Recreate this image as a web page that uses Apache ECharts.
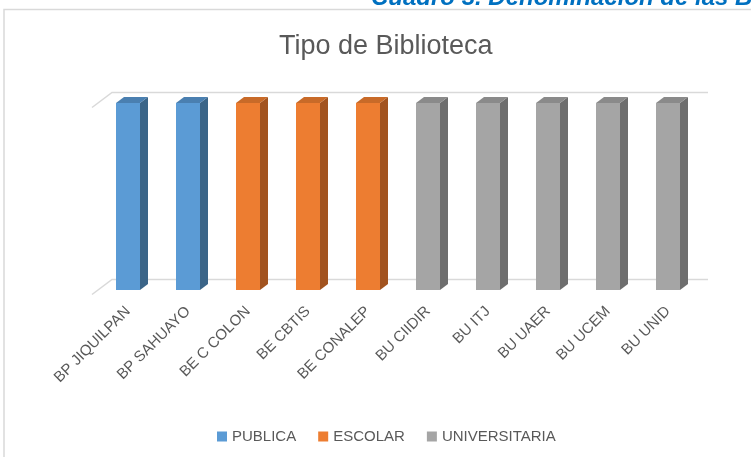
<!DOCTYPE html>
<html>
<head>
<meta charset="utf-8">
<script src="https://cdn.jsdelivr.net/npm/echarts@6/dist/echarts.min.js"></script>
<style>
html,body{margin:0;padding:0;background:#fff;}
#c{width:751px;height:457px;}
</style>
</head>
<body>
<div id="c"></div>
<script>
var categories = ['BP JIQUILPAN','BP SAHUAYO','BE C COLON','BE CBTIS','BE CONALEP','BU CIIDIR','BU ITJ','BU UAER','BU UCEM','BU UNID'];
var publica = [1,1,null,null,null,null,null,null,null,null];
var escolar = [null,null,1,1,1,null,null,null,null,null];
var universitaria = [null,null,null,null,null,1,1,1,1,1];
var seriesNames = ['PUBLICA','ESCOLAR','UNIVERSITARIA'];
var gridLevels = [0, 1];

var palette = {
  PUBLICA: {front:'#5b9bd5', side:'#3b6588', top:'#4a7fb0'},
  ESCOLAR: {front:'#ed7d31', side:'#a2531f', top:'#c86a28'},
  UNIVERSITARIA: {front:'#a5a5a5', side:'#6e6e6e', top:'#8a8a8a'}
};

function toData(arr){
  return arr.map(function(v,i){return [i,v];}).filter(function(d){return d[1]!=null;});
}

function barRenderer(name){
  var c = palette[name];
  return function(params, api){
    var i = api.value(0), v = api.value(1);
    var top = api.coord([i, v]);
    var base = api.coord([i, 0]);
    var w = api.size([1,0])[0]*0.4;
    var dx = 8, dy = -6;
    var l = top[0]-w/2, r = top[0]+w/2;
    return {
      type:'group',
      children:[
        {type:'rect', shape:{x:l, y:top[1], width:w, height:base[1]-top[1]}, style:{fill:c.front}},
        {type:'polygon', shape:{points:[[r,top[1]],[r+dx,top[1]+dy],[r+dx,base[1]+dy],[r,base[1]]]}, style:{fill:c.side}},
        {type:'polygon', shape:{points:[[l,top[1]],[l+dx,top[1]+dy],[r+dx,top[1]+dy],[r,top[1]]]}, style:{fill:c.top}}
      ]
    };
  };
}

function wallRenderer(params, api){
  var v = api.value(1);
  var cs = params.coordSys;
  var y = api.coord([0, v])[1];
  var left = cs.x, right = cs.x + cs.width;
  return {
    type:'polyline',
    shape:{points:[[left-6, y+4.5],[left+14, y-10.5],[right+10, y-10.5]]},
    style:{stroke:'#d9d9d9', lineWidth:1.5, fill:null}
  };
}

var chart = echarts.init(document.getElementById('c'), null, {renderer:'canvas'});
var series = [{
  type:'custom', name:'walls', silent:true, z:1,
  data: gridLevels.map(function(v){return [0,v];}),
  renderItem: wallRenderer
}];
[publica, escolar, universitaria].forEach(function(arr, k){
  var nm = seriesNames[k];
  series.push({
    type:'custom', name:nm, z:2,
    itemStyle:{color:palette[nm].front},
    data: toData(arr),
    renderItem: barRenderer(nm)
  });
});

chart.setOption({
  animation:false,
  backgroundColor:'#ffffff',
  title:{
    text:'Tipo de Biblioteca', left:274, top:28,
    textStyle:{fontFamily:'Liberation Sans', fontSize:27, fontWeight:'normal', color:'#595959'}
  },
  graphic:[
    {type:'polyline', shape:{points:[[4,460],[4,9.5],[760,9.5]]}, style:{stroke:'#d9d9d9', lineWidth:1.5, fill:null}},
    {type:'text', left:371, top:-14, style:{text:'Cuadro 3. Denominación de las Bibliotecas', font:'italic bold 24px "Liberation Sans"', fill:'#0070c0'}}
  ],
  legend:{
    data:seriesNames, top:424, left:212, icon:'rect', itemWidth:10, itemHeight:10, itemGap:22,
    textStyle:{fontFamily:'Liberation Sans', fontSize:15, color:'#595959'}
  },
  grid:{left:98, right:53, top:103, bottom:167},
  xAxis:{
    type:'category', data:categories,
    axisLine:{show:false}, axisTick:{show:false},
    axisLabel:{rotate:45, margin:19, fontFamily:'Liberation Sans', fontSize:15, color:'#595959', interval:0}
  },
  yAxis:{type:'value', min:0, max:1, show:false, splitLine:{show:false}},
  series:series
});
</script>
</body>
</html>
